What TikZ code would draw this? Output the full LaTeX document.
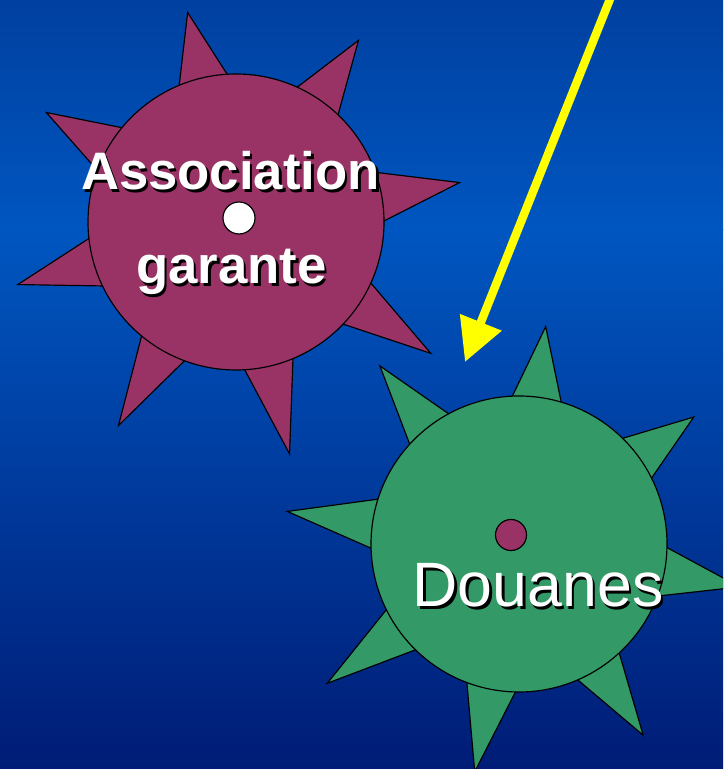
\documentclass[tikz,border=0pt]{standalone}
\usepackage{fontspec}
\setmainfont{Liberation Sans}
\usepackage{xcolor}
\usepackage{tikz}
\usetikzlibrary{arrows.meta,calc}
\definecolor{bgtop}{RGB}{0,64,160}
\definecolor{bgmid}{RGB}{0,86,192}
\definecolor{bgbot}{RGB}{0,28,118}
\definecolor{mv}{RGB}{153,51,102}
\definecolor{vt}{RGB}{51,153,102}
\definecolor{jn}{RGB}{255,255,0}
\newcommand{\OMB}[1]{\makebox[0pt][l]{\hspace{2.1pt}\raisebox{-2.1pt}{\textcolor{black}{#1}}}\textcolor{white}{#1}}

\begin{document}
\begin{tikzpicture}[x=0.03cm,y=0.03cm,
    gear/.style={draw=black,line width=1pt,line join=miter},
    lbl/.style={inner sep=0pt,anchor=base},
    bigbf/.style={font=\fontsize{45}{50}\selectfont\bfseries},
    bigrm/.style={font=\fontsize{53.5}{60}\selectfont}]
  \useasboundingbox (0,0) rectangle (723,769);
  \clip (0,0) rectangle (723,769);
  % fond
  \shade[top color=bgtop,bottom color=bgmid] (0,538) rectangle (723,769);
  \shade[top color=bgmid,bottom color=bgbot] (0,0) rectangle (723,539);

  % association garante
  \coordinate (assoc) at (236,547);
  \foreach \a/\l in {10/227,56/219,103/215,150/219,196/227,240/235,283/238,326/235}
    \draw[gear,fill=mv] ($(assoc)+(\a-10:146)$) -- ($(assoc)+(\a:\l)$) -- ($(assoc)+(\a+10:146)$) -- cycle;
  \draw[gear,fill=mv] (assoc) circle[radius=148];
  \draw[gear,fill=white] (239,551) circle[radius=16];

  % fleche
  \coordinate (arrstart) at (612,775);
  \coordinate (arrtip) at (465,407);
  \draw[-{Triangle[length=36.5pt,width=36.5pt]},line width=7.2pt,jn] (arrstart) -- (arrtip);

  % douanes
  \coordinate (douane) at (519,225);
  \foreach \a/\l in {36/216,83/219,128/226,172/234,216/237,259/232,303/228,349/225}
    \draw[gear,fill=vt] ($(douane)+(\a-10:146)$) -- ($(douane)+(\a:\l)$) -- ($(douane)+(\a+10:146)$) -- cycle;
  \draw[gear,fill=vt] (douane) circle[radius=148];
  \draw[gear,fill=mv] (511,234) circle[radius=15.5];

  % textes
  \node[lbl,bigbf] (assoctxt) at (230.5,579) {\OMB{Association}};
  \node[lbl,bigbf] (garantetxt) at (231.5,485) {\OMB{garante}};
  \node[lbl,bigrm] (douanetxt) at (538,162) {\OMB{Douanes}};
\end{tikzpicture}
\end{document}
